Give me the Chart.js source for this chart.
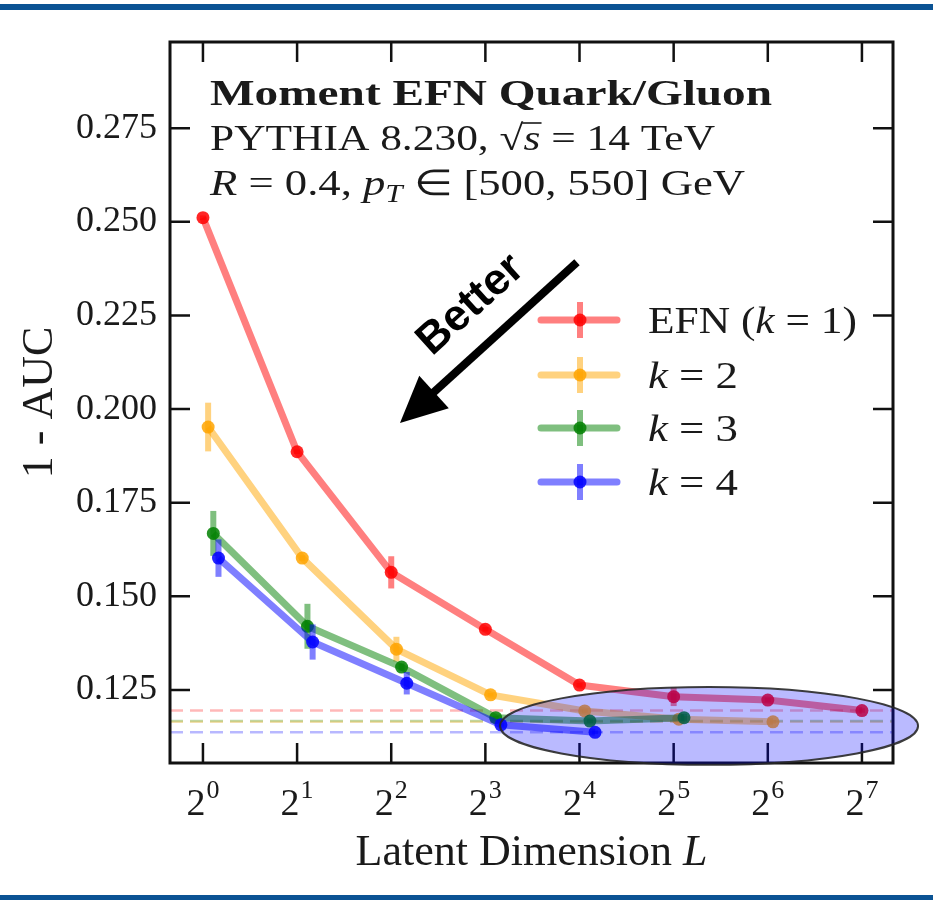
<!DOCTYPE html>
<html>
<head>
<meta charset="utf-8">
<script src="https://cdn.jsdelivr.net/npm/chart.js@4.4.1/dist/chart.umd.min.js"></script>
<style>
  html, body { margin: 0; padding: 0; background: #fff; }
  #wrap { position: relative; width: 933px; height: 901px; overflow: hidden; }
  #c { position: absolute; left: 0; top: 0; }
  .band { position: absolute; left: 0; width: 933px; background: #0b5394; }
</style>
</head>
<body>
<div id="wrap">
  <canvas id="c" width="933" height="901"></canvas>
  <div class="band" style="top:4px;height:6px"></div>
  <div class="band" style="top:895px;height:5px"></div>
</div>
<script>
// Latent dimension L = 2^exponent
const exponents = [0, 1, 2, 3, 4, 5, 6, 7];

// 1 - AUC for each number of moments k, with uncertainties
const efnK1 = [0.2511, 0.1886, 0.1564, 0.1412, 0.1263, 0.1232, 0.1223, 0.1195];
const efnK1Err = [0.0006, 0.0006, 0.0043, 0.0006, 0.0006, 0.0025, 0.0006, 0.0006];

const momentK2 = [0.1952, 0.1602, 0.1359, 0.1237, 0.1194, 0.1172, 0.1165];
const momentK2Err = [0.0065, 0.0008, 0.0033, 0.0005, 0.0005, 0.0005, 0.0005];

const momentK3 = [0.1668, 0.1420, 0.1311, 0.1176, 0.1167, 0.1176];
const momentK3Err = [0.0060, 0.0060, 0.0010, 0.0005, 0.0005, 0.0010];

const momentK4 = [0.1602, 0.1378, 0.1268, 0.1157, 0.1137];
const momentK4Err = [0.0050, 0.0047, 0.0030, 0.0005, 0.0005];

// axis ticks
const xTickExponents = [0, 1, 2, 3, 4, 5, 6, 7];
const yTickValues = [0.125, 0.150, 0.175, 0.200, 0.225, 0.250, 0.275];

// axis ranges
const xScaleMin = -0.35, xScaleMax = 7.33;
const yScaleMin = 0.1055, yScaleMax = 0.298;

const SERIF = "'Liberation Serif', 'Times New Roman', serif";
const reg = s => `${s}px ${SERIF}`;
const ital = s => `italic ${s}px ${SERIF}`;
const bold = s => `bold ${s}px ${SERIF}`;
const rgba = (c, a) => `rgba(${c[0]},${c[1]},${c[2]},${a})`;

const series = [
  { values: efnK1,    errors: efnK1Err,    rgb: [255, 0, 0],   shift: 0.000, order: 4,
    legend: [['EFN (', 'r'], ['k', 'i'], [' = 1)', 'r']], legendW: 209 },
  { values: momentK2, errors: momentK2Err, rgb: [255, 165, 0], shift: 0.055, order: 3,
    legend: [['k', 'i'], [' = 2', 'r']], legendW: 90 },
  { values: momentK3, errors: momentK3Err, rgb: [0, 128, 0],   shift: 0.110, order: 2,
    legend: [['k', 'i'], [' = 3', 'r']], legendW: 90 },
  { values: momentK4, errors: momentK4Err, rgb: [0, 0, 255],   shift: 0.165, order: 1,
    legend: [['k', 'i'], [' = 4', 'r']], legendW: 90 }
];

const datasets = [];
series.forEach(s => {
  datasets.push({
    data: s.values.map((v, i) => ({ x: exponents[i] + s.shift, y: v })),
    errors: s.errors,
    rgb: s.rgb,
    borderColor: rgba(s.rgb, 0.5),
    borderWidth: 7,
    tension: 0,
    pointRadius: 6.5,
    pointBorderWidth: 0,
    pointBackgroundColor: rgba(s.rgb, 0.85),
    order: s.order
  });
});
// dashed guide at each series' best value
series.forEach(s => {
  const best = Math.min(...s.values);
  datasets.push({
    data: [{ x: xScaleMin, y: best }, { x: xScaleMax, y: best }],
    borderColor: rgba(s.rgb, 0.28),
    borderWidth: 2.5,
    borderDash: [13, 7],
    pointRadius: 0,
    order: 10
  });
});

function drawRuns(ctx, runs, x, y, targetW) {
  let total = 0;
  runs.forEach(r => { ctx.font = r.f; r.w = ctx.measureText(r.t).width; total += r.w; });
  const sx = targetW ? targetW / total : 1;
  ctx.save();
  ctx.translate(x, y);
  ctx.scale(sx, 1);
  let cx = 0;
  runs.forEach(r => {
    ctx.font = r.f;
    ctx.fillText(r.t, cx, r.dy || 0);
    if (r.over) {
      ctx.lineWidth = 1.6;
      ctx.beginPath();
      ctx.moveTo(cx - 1, -27);
      ctx.lineTo(cx + r.w + 1, -27);
      ctx.stroke();
    }
    cx += r.w;
  });
  ctx.restore();
}

const decorations = {
  id: 'decorations',
  beforeDatasetDraw(chart, args) {
    const ds = chart.data.datasets[args.index];
    if (!ds.errors) return;
    const { ctx, chartArea: a } = chart;
    const xs = chart.scales.x, ys = chart.scales.y;
    ctx.save();
    ctx.beginPath();
    ctx.rect(a.left, a.top, a.right - a.left, a.bottom - a.top);
    ctx.clip();
    ctx.strokeStyle = rgba(ds.rgb, 0.5);
    ctx.lineWidth = 6;
    ds.data.forEach((p, i) => {
      const e = ds.errors[i];
      const px = xs.getPixelForValue(p.x);
      ctx.beginPath();
      ctx.moveTo(px, ys.getPixelForValue(p.y + e));
      ctx.lineTo(px, ys.getPixelForValue(p.y - e));
      ctx.stroke();
    });
    ctx.restore();
  },
  afterDraw(chart) {
    const { ctx, chartArea: a } = chart;
    const xs = chart.scales.x, ys = chart.scales.y;
    ctx.save();

    // frame and inward ticks on all sides
    ctx.strokeStyle = '#111';
    ctx.lineWidth = 2.5;
    const tl = 20;
    yTickValues.forEach(v => {
      const py = ys.getPixelForValue(v);
      ctx.beginPath();
      ctx.moveTo(a.left, py); ctx.lineTo(a.left + tl, py);
      ctx.moveTo(a.right, py); ctx.lineTo(a.right - tl, py);
      ctx.stroke();
    });
    xTickExponents.forEach(v => {
      const px = xs.getPixelForValue(v);
      ctx.beginPath();
      ctx.moveTo(px, a.bottom); ctx.lineTo(px, a.bottom - tl);
      ctx.moveTo(px, a.top); ctx.lineTo(px, a.top + tl);
      ctx.stroke();
    });
    ctx.lineWidth = 3;
    ctx.strokeRect(a.left, a.top, a.right - a.left, a.bottom - a.top);

    // x tick labels 2^n
    ctx.fillStyle = '#1a1a1a';
    ctx.textBaseline = 'alphabetic';
    ctx.textAlign = 'left';
    xTickExponents.forEach(v => {
      const px = xs.getPixelForValue(v);
      ctx.font = reg(38);
      const wb = ctx.measureText('2').width;
      ctx.font = reg(26);
      const we = ctx.measureText(String(v)).width;
      const start = px - (wb + we + 1) / 2;
      ctx.font = reg(38);
      ctx.fillText('2', start, 815);
      ctx.font = reg(26);
      ctx.fillText(String(v), start + wb + 1, 798);
    });

    // x axis title
    {
      const runs = [{ t: 'Latent Dimension ', f: reg(44) }, { t: 'L', f: ital(44) }];
      let w = 0;
      runs.forEach(r => { ctx.font = r.f; w += ctx.measureText(r.t).width; });
      drawRuns(ctx, runs, (a.left + a.right) / 2 - w / 2, 865, 0);
    }

    // description text
    ctx.fillStyle = '#1a1a1a';
    ctx.strokeStyle = '#1a1a1a';
    drawRuns(ctx, [{ t: 'Moment EFN Quark/Gluon', f: bold(36) }], 210, 105, 562);
    drawRuns(ctx, [
      { t: 'PYTHIA 8.230, ', f: reg(36) },
      { t: '\u221A', f: reg(36) },
      { t: 's', f: ital(36), over: true },
      { t: ' = 14 TeV', f: reg(36) }
    ], 210, 150, 505);
    drawRuns(ctx, [
      { t: 'R', f: ital(36) },
      { t: ' = 0.4, ', f: reg(36) },
      { t: 'p', f: ital(36) },
      { t: 'T', f: ital(25), dy: 7 },
      { t: ' \u2208 [500, 550] GeV', f: reg(36) }
    ], 210, 195, 535);

    // legend
    const legendY = [320, 375, 428, 482];
    series.forEach((s, i) => {
      const cy = legendY[i];
      ctx.lineCap = 'round';
      ctx.strokeStyle = rgba(s.rgb, 0.5);
      ctx.lineWidth = 7;
      ctx.beginPath(); ctx.moveTo(541, cy); ctx.lineTo(617, cy); ctx.stroke();
      ctx.lineCap = 'butt';
      ctx.lineWidth = 6;
      ctx.beginPath(); ctx.moveTo(580, cy - 18); ctx.lineTo(580, cy + 18); ctx.stroke();
      ctx.fillStyle = rgba(s.rgb, 0.85);
      ctx.beginPath(); ctx.arc(580, cy, 6.5, 0, Math.PI * 2); ctx.fill();
      ctx.fillStyle = '#1a1a1a';
      const runs = s.legend.map(([t, st]) => ({ t, f: st === 'i' ? ital(37) : reg(37) }));
      drawRuns(ctx, runs, 648, cy + 13, s.legendW);
    });

    // "Better" arrow
    const fx = xs.getPixelForValue(3.973), fy = ys.getPixelForValue(0.2392);
    const tx = xs.getPixelForValue(2.093), ty = ys.getPixelForValue(0.1963);
    const ang = Math.atan2(ty - fy, tx - fx);
    const headLen = 46, headHalf = 22;
    const bx = tx - headLen * Math.cos(ang), by = ty - headLen * Math.sin(ang);
    ctx.strokeStyle = '#000';
    ctx.fillStyle = '#000';
    ctx.lineWidth = 8;
    ctx.beginPath(); ctx.moveTo(fx, fy); ctx.lineTo(bx + 3 * Math.cos(ang), by + 3 * Math.sin(ang)); ctx.stroke();
    ctx.beginPath();
    ctx.moveTo(tx, ty);
    ctx.lineTo(bx + headHalf * Math.sin(ang), by - headHalf * Math.cos(ang));
    ctx.lineTo(bx - headHalf * Math.sin(ang), by + headHalf * Math.cos(ang));
    ctx.closePath();
    ctx.fill();
    ctx.save();
    ctx.translate(xs.getPixelForValue(2.847), ys.getPixelForValue(0.2278));
    ctx.rotate(Math.atan2(fy - ty, fx - tx));
    ctx.font = "bold 44px 'Liberation Sans', Arial, sans-serif";
    ctx.textAlign = 'center';
    ctx.textBaseline = 'middle';
    ctx.fillText('Better', 0, 0);
    ctx.restore();

    // highlighted region of large L
    const ecx = xs.getPixelForValue(5.376), ecy = ys.getPixelForValue(0.1154);
    const erx = xs.getPixelForValue(5.376 + 2.22) - ecx;
    const ery = ecy - ys.getPixelForValue(0.1154 + 0.0104);
    ctx.beginPath();
    ctx.ellipse(ecx, ecy, erx, ery, 0, 0, Math.PI * 2);
    ctx.fillStyle = 'rgba(0,0,255,0.27)';
    ctx.fill();
    ctx.strokeStyle = 'rgba(40,40,40,0.9)';
    ctx.lineWidth = 2;
    ctx.stroke();

    ctx.restore();
  }
};

new Chart(document.getElementById('c'), {
  type: 'line',
  data: { datasets },
  options: {
    responsive: false,
    animation: false,
    events: [],
    layout: { padding: { left: 0, top: 42, right: 40, bottom: 0 } },
    plugins: { legend: { display: false }, tooltip: { enabled: false } },
    scales: {
      x: {
        type: 'linear',
        min: xScaleMin,
        max: xScaleMax,
        grid: { display: false, drawTicks: false },
        border: { display: false },
        ticks: { display: false },
        afterBuildTicks: s => { s.ticks = xTickExponents.map(v => ({ value: v })); },
        afterFit: s => { s.height = 138; }
      },
      y: {
        type: 'linear',
        min: yScaleMin,
        max: yScaleMax,
        grid: { display: false, drawTicks: false },
        border: { display: false },
        afterBuildTicks: s => { s.ticks = yTickValues.map(v => ({ value: v })); },
        afterFit: s => { s.width = 170; },
        ticks: {
          callback: v => Number(v).toFixed(3),
          font: { family: SERIF, size: 36 },
          color: '#1a1a1a',
          padding: 13
        },
        title: {
          display: true,
          text: '1 - AUC',
          font: { family: SERIF, size: 44 },
          color: '#1a1a1a',
          padding: { top: 14 }
        }
      }
    }
  },
  plugins: [decorations]
});
</script>
</body>
</html>
